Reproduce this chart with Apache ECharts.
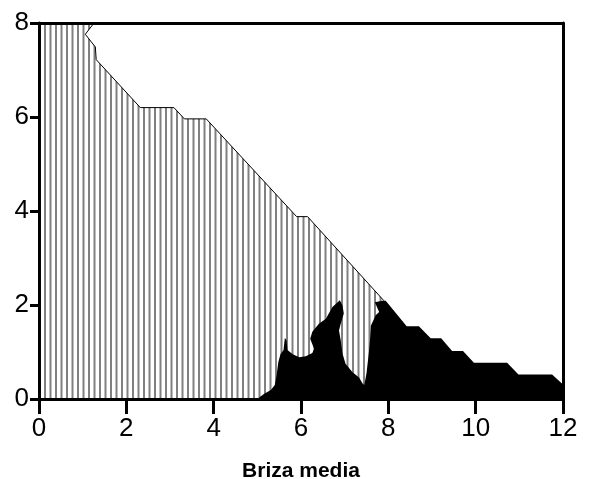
<!DOCTYPE html>
<html>
<head>
<meta charset="utf-8">
<script src="https://cdn.jsdelivr.net/npm/echarts@6/dist/echarts.min.js"></script>
<style>
html,body{margin:0;padding:0;background:#fff;}
#chart{width:589px;height:479px;}
</style>
</head>
<body>
<div id="chart"></div>
<script>
// Tick labels
var xTicks = [0, 2, 4, 6, 8, 10, 12];
var yTicks = [0, 2, 4, 6, 8];
var xName = 'Briza media';

// Hatched region (upper boundary, then closed along the bottom)
var hatchX = [0, 1.26, 1.06, 1.29, 1.31, 2.32, 3.09, 3.33, 3.83, 5.90, 6.15, 7.90, 8.00, 8.00, 0];
var hatchY = [8, 8.00, 7.76, 7.49, 7.22, 6.20, 6.20, 5.96, 5.96, 3.88, 3.88, 2.09, 1.90, 0.00, 0];
// Visible boundary line of the hatched region
var edgeX = [1.26, 1.06, 1.29, 1.31, 2.32, 3.09, 3.33, 3.83, 5.90, 6.15, 7.90];
var edgeY = [8.00, 7.76, 7.49, 7.22, 6.20, 6.20, 5.96, 5.96, 3.88, 3.88, 2.09];

// Black region outline
var blackX = [5.00, 5.08, 5.16, 5.31, 5.40, 5.44, 5.48, 5.53, 5.60, 5.63, 5.67, 5.69, 5.81, 5.96, 6.11, 6.26, 6.30, 6.21, 6.26, 6.41, 6.57, 6.72, 6.89, 6.95, 6.98, 6.91, 6.87, 6.91, 6.95, 7.02, 7.18, 7.33, 7.41, 7.45, 7.50, 7.55, 7.58, 7.60, 7.71, 7.79, 7.69, 7.86, 7.94, 8.42, 8.70, 8.97, 9.21, 9.46, 9.71, 9.96, 10.72, 10.98, 11.75, 12.00, 12.00];
var blackY = [0.00, 0.06, 0.11, 0.19, 0.30, 0.50, 0.78, 0.95, 1.04, 1.30, 1.25, 1.04, 0.95, 0.89, 0.91, 0.98, 1.07, 1.28, 1.43, 1.60, 1.71, 1.96, 2.10, 1.99, 1.82, 1.60, 1.46, 1.25, 0.97, 0.75, 0.57, 0.46, 0.33, 0.30, 0.55, 0.95, 1.25, 1.56, 1.78, 1.85, 2.06, 2.09, 2.09, 1.55, 1.55, 1.29, 1.29, 1.02, 1.02, 0.77, 0.77, 0.52, 0.52, 0.31, 0.00];

// Vertical-line hatch pattern
var pc = document.createElement('canvas');
pc.width = 11; pc.height = 4;
var g = pc.getContext('2d');
g.fillStyle = '#808080';
g.fillRect(0, 0, 2, 4);
g.fillRect(5.5, 0, 2, 4);

function polySeries(xs, ys, fill, z) {
  return {
    type: 'custom',
    z: z,
    silent: true,
    data: [[0, 0]],
    renderItem: function (params, api) {
      var pts = xs.map(function (x, i) { return api.coord([x, ys[i]]); });
      return { type: 'polygon', shape: { points: pts }, style: { fill: fill, stroke: null } };
    }
  };
}

var FONT = "'Liberation Sans', Arial, sans-serif";
var chart = echarts.init(document.getElementById('chart'), null, { renderer: 'canvas' });
chart.setOption({
  animation: false,
  backgroundColor: '#fff',
  grid: { left: 39, right: 26, top: 23, bottom: 80, outerBoundsMode: 'none', containLabel: false, show: false },
  xAxis: [{
    type: 'value', min: xTicks[0], max: xTicks[xTicks.length - 1], interval: 2, z: 10,
    name: xName, nameLocation: 'middle', nameGap: 62,
    nameTextStyle: { fontFamily: FONT, fontWeight: 'bold', fontSize: 21, color: '#000' },
    axisLine: { show: true, onZero: false, lineStyle: { color: '#000', width: 3 } },
    axisTick: { show: true, length: 15, lineStyle: { color: '#000', width: 3 } },
    axisLabel: { margin: 17, fontFamily: FONT, fontSize: 26, color: '#000',
      formatter: function (v) { return xTicks.indexOf(v) >= 0 ? String(v) : ''; } },
    splitLine: { show: false }
  }, {
    type: 'value', position: 'top', min: 0, max: 12, z: 10,
    axisLine: { show: true, onZero: false, lineStyle: { color: '#000', width: 3 } },
    axisTick: { show: false }, axisLabel: { show: false }, splitLine: { show: false }
  }],
  yAxis: [{
    type: 'value', min: yTicks[0], max: yTicks[yTicks.length - 1], interval: 2, z: 10,
    axisLine: { show: true, onZero: false, lineStyle: { color: '#000', width: 3 } },
    axisTick: { show: true, length: 9, lineStyle: { color: '#000', width: 3 } },
    axisLabel: { margin: 10, fontFamily: FONT, fontSize: 26, color: '#000',
      formatter: function (v) { return yTicks.indexOf(v) >= 0 ? String(v) : ''; } },
    splitLine: { show: false }
  }, {
    type: 'value', position: 'right', min: 0, max: 8, z: 10,
    axisLine: { show: true, onZero: false, lineStyle: { color: '#000', width: 3 } },
    axisTick: { show: false }, axisLabel: { show: false }, splitLine: { show: false }
  }],
  series: [
    polySeries(hatchX, hatchY, { image: pc, repeat: 'repeat' }, 1),
    {
      type: 'line', z: 2, silent: true, showSymbol: false,
      data: edgeX.map(function (x, i) { return [x, edgeY[i]]; }),
      lineStyle: { color: '#000', width: 1 }
    },
    polySeries(blackX, blackY, '#000', 3)
  ]
});
</script>
</body>
</html>
